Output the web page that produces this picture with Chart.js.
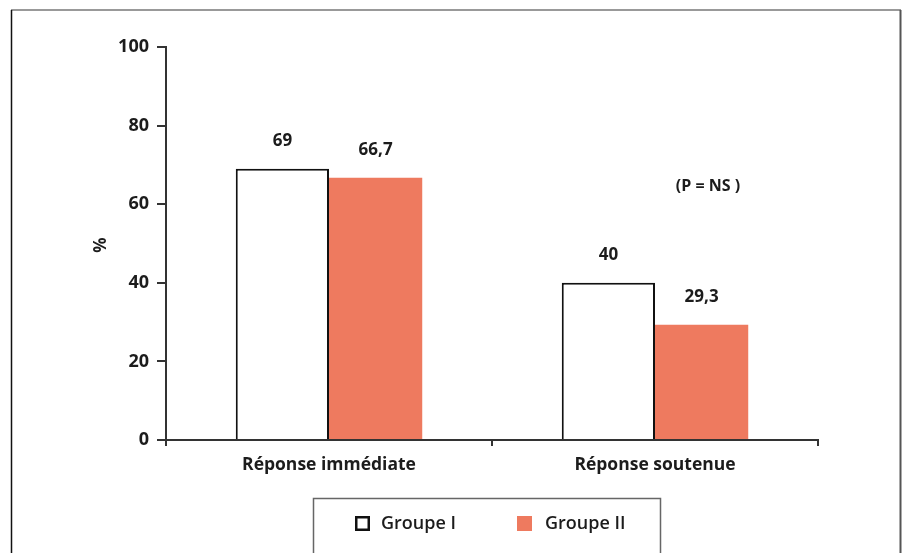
<!DOCTYPE html>
<html>
<head>
<meta charset="utf-8">
<script src="https://cdn.jsdelivr.net/npm/chart.js@4/dist/chart.umd.min.js"></script>
<style>
  html, body { margin: 0; padding: 0; background: #fff; }
  #wrap { width: 907px; height: 553px; position: relative; }
</style>
</head>
<body>
<div id="wrap"><canvas id="c" width="907" height="553"></canvas></div>
<script>
// Response rates (%) by group
const categories = ['Réponse immédiate', 'Réponse soutenue'];
const groupe1 = [69, 40];
const groupe2 = [66.7, 29.3];
const seriesNames = ['Groupe I', 'Groupe II'];
const yTicks = [0, 20, 40, 60, 80, 100];
const yTitle = '%';
const note = '(P = NS )';

const FONT = "'Open Sans', 'DejaVu Sans', sans-serif";
const ORANGE = '#EE7A5F';
const INK = '#1c1c1c';

const fmt = v => String(v).replace('.', ',');

// Outer frame, value labels, axis title, note and boxed legend
const decorations = {
  id: 'decorations',
  afterDraw(chart) {
    const ctx = chart.ctx;
    ctx.save();

    // frame (open at the bottom)
    ctx.lineWidth = 1.5;
    ctx.strokeStyle = '#777';
    ctx.beginPath(); ctx.moveTo(11, 10); ctx.lineTo(901, 10); ctx.stroke();
    ctx.strokeStyle = '#111';
    ctx.beginPath(); ctx.moveTo(11.5, 10); ctx.lineTo(11.5, 553); ctx.stroke();
    ctx.strokeStyle = '#555';
    ctx.lineWidth = 2;
    ctx.beginPath(); ctx.moveTo(900.5, 10); ctx.lineTo(900.5, 553); ctx.stroke();

    // value labels above bars
    ctx.fillStyle = INK;
    ctx.font = "700 17px " + FONT;
    ctx.textAlign = 'center';
    ctx.textBaseline = 'middle';
    chart.data.datasets.forEach((ds, di) => {
      chart.getDatasetMeta(di).data.forEach((bar, i) => {
        ctx.fillText(fmt(ds.data[i]), bar.x, bar.y - 28);
      });
    });

    // axis title
    ctx.save();
    ctx.translate(101, 245);
    ctx.rotate(-Math.PI / 2);
    ctx.font = "700 17px " + FONT;
    ctx.fillText(yTitle, 0, 0);
    ctx.restore();

    // significance note
    ctx.font = "700 16px " + FONT;
    ctx.fillText(note, 708, 186);

    // legend box
    ctx.strokeStyle = '#666';
    ctx.lineWidth = 1.5;
    ctx.beginPath();
    ctx.moveTo(313.5, 553); ctx.lineTo(313.5, 498.5); ctx.lineTo(660.5, 498.5); ctx.lineTo(660.5, 553);
    ctx.stroke();

    const items = [
      { x: 355, tx: 381 },
      { x: 517, tx: 545 }
    ];
    ctx.textAlign = 'left';
    ctx.font = "600 18px " + FONT;
    chart.data.datasets.forEach((ds, di) => {
      const it = items[di];
      if (ds.backgroundColor === '#ffffff') {
        ctx.fillStyle = '#fff';
        ctx.fillRect(it.x, 516, 15, 15);
        ctx.strokeStyle = '#111';
        ctx.lineWidth = 2.5;
        ctx.strokeRect(it.x + 1.25, 517.25, 12.5, 12.5);
      } else {
        ctx.fillStyle = ds.backgroundColor;
        ctx.fillRect(it.x, 516, 15, 15);
      }
      ctx.fillStyle = INK;
      ctx.fillText(ds.label, it.tx, 524);
    });

    ctx.restore();
  }
};

new Chart(document.getElementById('c'), {
  type: 'bar',
  data: {
    labels: categories,
    datasets: [
      {
        label: seriesNames[0],
        data: groupe1,
        backgroundColor: '#ffffff',
        borderColor: '#111',
        borderWidth: 2,
        borderSkipped: 'start'
      },
      {
        label: seriesNames[1],
        data: groupe2,
        backgroundColor: ORANGE,
        borderWidth: 0
      }
    ]
  },
  options: {
    responsive: false,
    animation: false,
    events: [],
    layout: { padding: { top: 47, right: 89, left: 0, bottom: 0 } },
    plugins: {
      legend: { display: false },
      tooltip: { enabled: false },
      title: { display: false }
    },
    datasets: {
      bar: { barPercentage: 1, categoryPercentage: 0.572 }
    },
    scales: {
      x: {
        afterFit(scale) { scale.height = 113; },
        border: { display: true, color: '#333', width: 2 },
        grid: {
          offset: true,
          drawOnChartArea: false,
          drawTicks: true,
          tickLength: 6,
          color: '#333',
          lineWidth: 2
        },
        ticks: {
          color: INK,
          padding: 9,
          font: { family: FONT, size: 17.5, weight: '700' }
        }
      },
      y: {
        min: 0,
        max: 100,
        afterFit(scale) { scale.width = 166; },
        afterBuildTicks(scale) { scale.ticks = yTicks.map(v => ({ value: v })); },
        border: { display: true, color: '#333', width: 2 },
        grid: {
          drawOnChartArea: false,
          drawTicks: true,
          tickLength: 9,
          color: '#333',
          lineWidth: 2
        },
        ticks: {
          color: INK,
          padding: 8,
          font: { family: FONT, size: 18, weight: '700' }
        }
      }
    }
  },
  plugins: [decorations]
});
</script>
</body>
</html>
